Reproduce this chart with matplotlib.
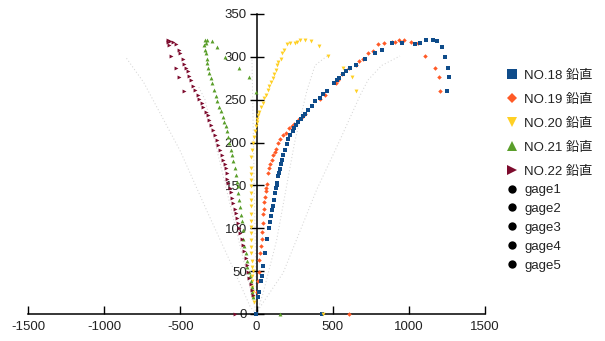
import matplotlib
matplotlib.use("Agg")
import matplotlib.pyplot as plt
from matplotlib.lines import Line2D

# ---------------- data ----------------
no18_x = [-5, 430, 12, 18, 28, 34, 45, 56, 71, 82, 89, 93, 100, 106, 115, 121, 128, 132, 136, 143, 150, 154,
          161, 165, 176, 187, 198, 209, 220, 237, 248, 259, 275, 290, 303, 318, 340, 362, 384, 417, 439,
          461, 509, 530, 544, 566, 588, 614, 653, 712, 778, 822, 887, 953, 1040, 1073, 1113, 1157, 1187,
          1215, 1237, 1259, 1266, 1248]
no18_y = [0, 0, 20, 26, 38, 44, 56, 71, 88, 100, 107, 114, 121, 126, 133, 141, 147, 150, 153, 161, 164, 169,
          175, 180, 186, 191, 198, 204, 209, 213, 217, 220, 224, 227, 231, 233, 238, 243, 248, 252, 257,
          260, 269, 273, 275, 280, 283, 287, 290, 298, 305, 308, 316, 316, 315, 316, 320, 320, 318,
          312, 300, 287, 277, 260]

no19_x = [607, 5, 12, 16, 18, 23, 30, 34, 36, 41, 45, 49, 51, 56, 60, 62, 67, 78, 84, 89, 100, 110, 121,
          128, 139, 154, 172, 194, 215, 231, 246, 281, 297, 318, 417, 450, 522, 537, 559, 609, 653, 675,
          701, 734, 763, 800, 839, 887, 909, 938, 970, 1012, 1058, 1106, 1172, 1200, 1205]
no19_y = [0, 26, 38, 49, 63, 71, 79, 88, 96, 106, 117, 123, 131, 137, 143, 147, 152, 164, 170, 175, 180,
          186, 189, 193, 199, 204, 209, 211, 217, 219, 222, 228, 230, 233, 251, 256, 269, 273, 280, 287,
          290, 295, 298, 304, 307, 315, 316, 317, 317, 320, 320, 317, 316, 301, 287, 277, 260]

no20_x = [439, -16, -21, -25, -28, -32, -30, -25, -29, -32, -34, -36, -36, -36, -36, -36, -36, -36, -36,
          -36, -36, -36, -36, -36, -36, -32, -25, -16, -10, -3, 1, 5, 12, 18, 28, 41, 51, 62, 78, 84, 93,
          106, 115, 128, 137, 143, 159, 170, 181, 198, 220, 253, 268, 286, 318, 356, 412, 471, 570, 625,
          653]
no20_y = [0, 14, 20, 26, 31, 38, 44, 50, 55, 62, 71, 78, 86, 94, 101, 109, 117, 126, 133, 141, 149, 156,
          163, 170, 183, 191, 199, 206, 213, 219, 224, 228, 232, 236, 241, 246, 252, 256, 261, 266, 271,
          275, 280, 285, 290, 294, 298, 304, 308, 315, 316, 316, 317, 320, 320, 318, 313, 301, 287, 277, 260]

no21_x = [154, -21, -28, -32, -36, -43, -49, -60, -65, -71, -80, -87, -91, -97, -102, -108, -113, -119,
          -124, -130, -135, -141, -152, -159, -168, -179, -185, -196, -202, -214, -222, -236, -244, -257,
          -266, -277, -290, -299, -310, -316, -323, -327, -331, -338, -343, -331, -338, -327, -294, -257,
          -207, -113, -49, -3]
no21_y = [0, 20, 26, 32, 38, 44, 49, 55, 62, 71, 79, 88, 98, 108, 115, 125, 133, 141, 149, 154, 162, 170,
          178, 186, 191, 199, 207, 213, 219, 224, 230, 237, 242, 248, 254, 261, 269, 275, 281, 287, 293,
          298, 304, 308, 314, 316, 320, 320, 318, 312, 300, 287, 277, 259]

no22_x = [-141, -25, -32, -39, -47, -54, -65, -71, -80, -91, -97, -108, -113, -124, -130, -135, -141,
          -152, -159, -168, -174, -185, -192, -196, -200, -207, -218, -229, -240, -251, -261, -273, -284,
          -299, -310, -320, -331, -349, -360, -375, -386, -404, -415, -430, -441, -452, -463, -474, -485,
          -502, -509, -572, -583, -568, -579, -546, -528, -563, -528, -507, -476]
no22_y = [0, 22, 28, 35, 42, 49, 57, 65, 73, 81, 88, 94, 100, 106, 112, 118, 123, 130, 135, 142, 147,
          153, 158, 164, 170, 175, 180, 186, 191, 197, 203, 209, 215, 220, 226, 232, 236, 242, 246, 251,
          256, 261, 266, 273, 278, 283, 287, 292, 297, 304, 308, 314, 317, 319, 320, 317, 315, 301, 287,
          277, 260]

gage1_x = [0, -40, -170, -330, -500, -740, -860]
gage1_y = [0, 8, 60, 122, 190, 270, 300]
gage2_x = [0, -15, -30]
gage2_y = [0, 150, 300]
gage3_x = [0, 43, 132, 250, 330, 384, 470]
gage3_y = [0, 24, 86, 200, 260, 290, 302]
gage4_x = [0, 23, 175, 395, 548, 680, 732, 822, 942]
gage4_y = [0, 8, 48, 145, 203, 255, 273, 290, 301]
gage5_x = [0, -220, -338, -380]
gage5_y = [0, 162, 250, 265]

series_names = ["NO.18 鉛直", "NO.19 鉛直", "NO.20 鉛直", "NO.21 鉛直", "NO.22 鉛直"]
gage_names = ["gage1", "gage2", "gage3", "gage4", "gage5"]
x_ticks = [-1500, -1000, -500, 0, 500, 1000, 1500]
y_ticks = [0, 50, 100, 150, 200, 250, 300, 350]

# ---------------- plot ----------------
plt.rcParams['font.family'] = ['Liberation Sans', 'Noto Sans CJK JP', 'DejaVu Sans']

fig = plt.figure(figsize=(6.05, 3.41), dpi=100)
ax = fig.add_axes([28 / 605, 27 / 341, 457 / 605, 300 / 341])

gage_color = '#d6d6d6'
for gx, gy in [(gage1_x, gage1_y), (gage2_x, gage2_y), (gage3_x, gage3_y),
               (gage4_x, gage4_y), (gage5_x, gage5_y)]:
    ax.plot(gx, gy, linestyle=(0, (1, 2.2)), color=gage_color, linewidth=0.75, zorder=1)

colors = ['#0f4c8a', '#ff5a26', '#ffd024', '#5a9e2a', '#7d0b2d']
markers = ['s', 'D', 'v', '^', '>']
sizes = [2.6, 2.3, 2.8, 2.8, 2.8]
data = [(no19_x, no19_y, 1), (no18_x, no18_y, 0), (no20_x, no20_y, 2),
        (no21_x, no21_y, 3), (no22_x, no22_y, 4)]
for xs, ys, i in data:
    ax.plot(xs, ys, linestyle='none', marker=markers[i], markersize=sizes[i],
            color=colors[i], markeredgewidth=0, zorder=3, clip_on=False)

ax.set_xlim(-1500, 1500)
ax.set_ylim(0, 350)
ax.set_xticks(x_ticks)
ax.set_yticks(y_ticks)
ax.set_xticklabels([str(v) for v in x_ticks])
ax.set_yticklabels([str(v) for v in y_ticks])

ax.spines['left'].set_position(('data', 0))
ax.spines['bottom'].set_position(('data', 0))
ax.spines['top'].set_visible(False)
ax.spines['right'].set_visible(False)
for s in ['left', 'bottom']:
    ax.spines[s].set_color('#000000')
    ax.spines[s].set_linewidth(1.1)
    ax.spines[s].set_zorder(2)

ax.tick_params(axis='x', direction='in', length=6, width=1, color='#000000',
               labelsize=9.5, labelcolor='#222222', pad=5)
ax.tick_params(axis='y', direction='inout', length=10, width=1, color='#000000',
               labelsize=9.5, labelcolor='#222222', pad=2)

handles1 = []
for i, name in enumerate(series_names):
    handles1.append(Line2D([], [], linestyle='none', marker=markers[i], color=colors[i],
                           markersize=6.5 if markers[i] != 'D' else 5.5, markeredgewidth=0, label=name))
handles2 = []
for name in gage_names:
    handles2.append(Line2D([], [], linestyle='none', marker='o', color='#000000',
                           markersize=6, markeredgewidth=0, label=name))

common = dict(frameon=False, fontsize=9.5, handlelength=0.8, handletextpad=0.5,
              borderpad=0, borderaxespad=0, loc='upper left')
leg1 = fig.legend(handles=handles1, bbox_to_anchor=(507 / 605, 1 - 69.5 / 341),
                  labelspacing=0.89, **common)
leg2 = fig.legend(handles=handles2, bbox_to_anchor=(507 / 605, 1 - 184 / 341),
                  labelspacing=0.5, **common)
for leg in (leg1, leg2):
    for t in leg.get_texts():
        t.set_color('#222222')

fig.savefig('out.png', dpi=100)
